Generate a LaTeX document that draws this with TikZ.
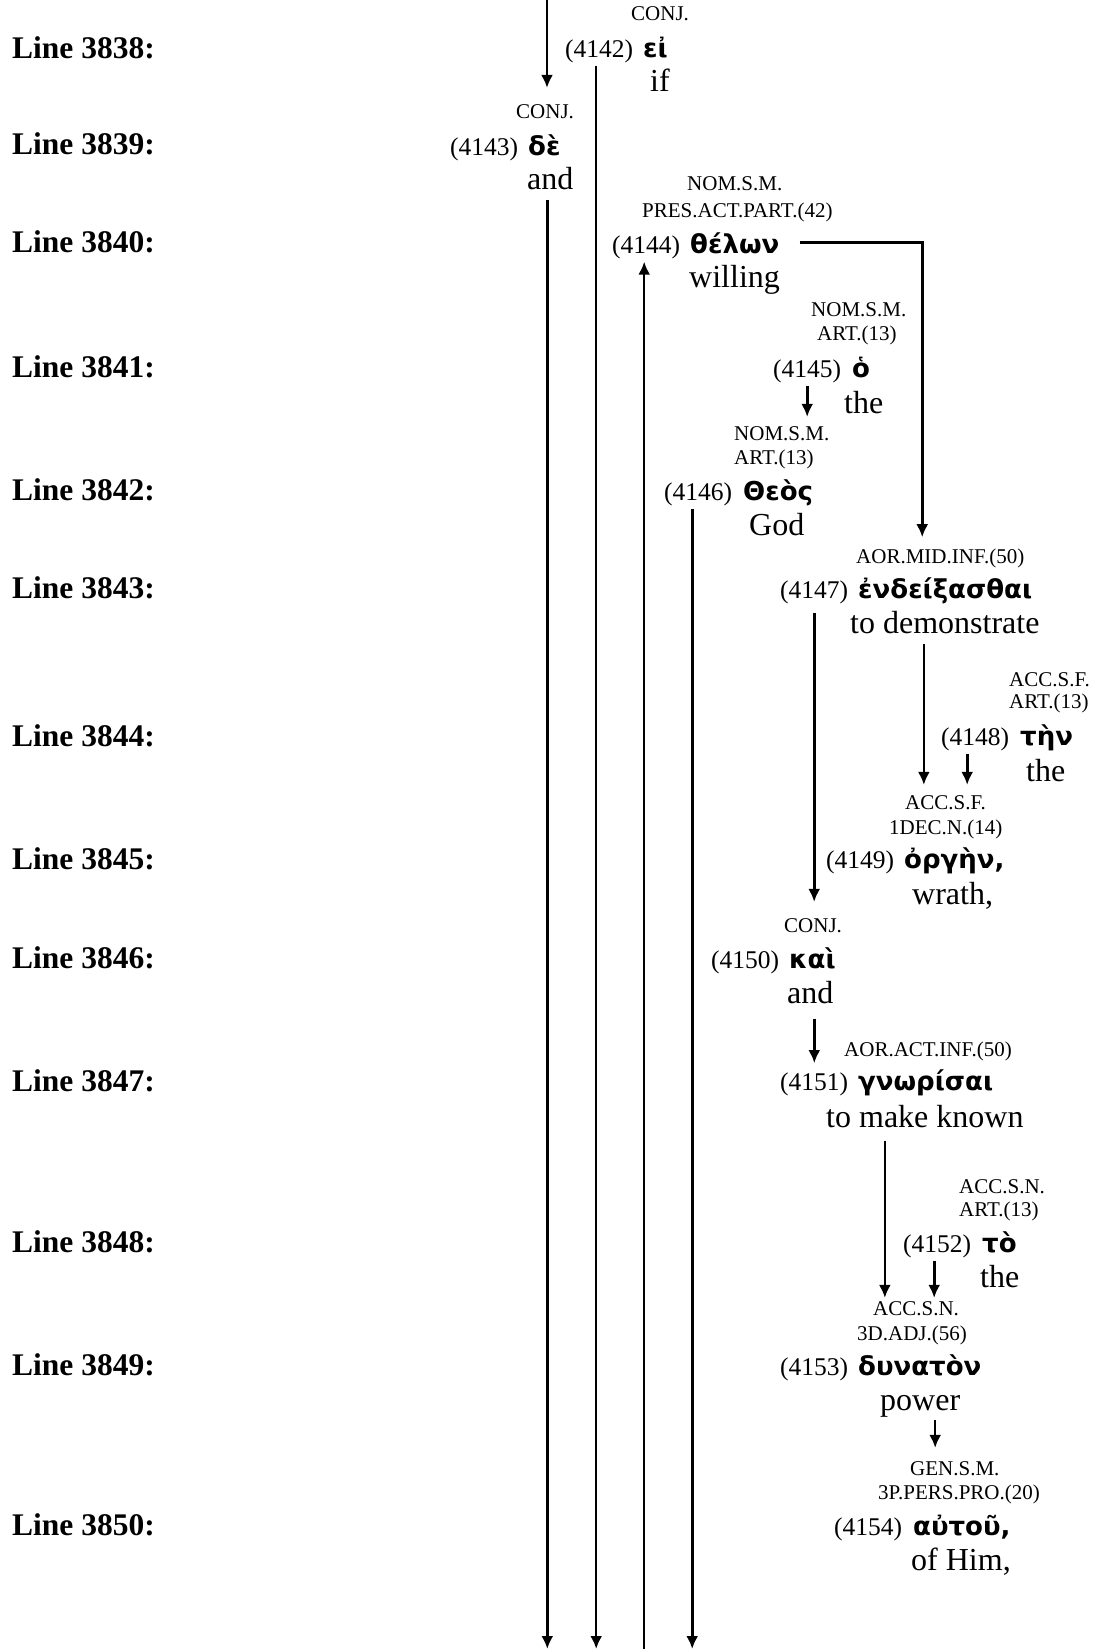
\documentclass[tikz,border=0pt]{standalone}
\usepackage{fontspec}
\setmainfont{Liberation Serif}
\newfontfamily\grkfamily{DejaVu Sans}
\usetikzlibrary{arrows.meta}
\newcommand{\linef}{\fontsize{31.5}{36}\selectfont\bfseries}
\newcommand{\tagf}{\fontsize{21}{24}\selectfont}
\newcommand{\numf}{\fontsize{25.5}{30}\selectfont}
\newcommand{\glossf}{\fontsize{32}{36}\selectfont}
\newcommand{\grkf}{\fontsize{26}{30}\selectfont\grkfamily\bfseries}

\begin{document}
\begin{tikzpicture}[x=1pt, y=-1pt,
  every node/.style={anchor=base west, inner xsep=0pt, inner ysep=3pt},
  link/.style={line width=2.6pt},
  >={Latex[length=13pt,width=12pt]}]
\useasboundingbox (0,0) rectangle (1094,1649);
\coordinate (top) at (547,0);
\coordinate (bot) at (0,1649);

\node (l3838) at (12,58) {\linef Line 3838:};
\node (l3839) at (12,154) {\linef Line 3839:};
\node (l3840) at (12,252) {\linef Line 3840:};
\node (l3841) at (12,377) {\linef Line 3841:};
\node (l3842) at (12,500) {\linef Line 3842:};
\node (l3843) at (12,598) {\linef Line 3843:};
\node (l3844) at (12,746) {\linef Line 3844:};
\node (l3845) at (12,869) {\linef Line 3845:};
\node (l3846) at (12,968) {\linef Line 3846:};
\node (l3847) at (12,1091) {\linef Line 3847:};
\node (l3848) at (12,1252) {\linef Line 3848:};
\node (l3849) at (12,1375) {\linef Line 3849:};
\node (l3850) at (12,1535) {\linef Line 3850:};

\node (t4142) at (631,20) {\tagf CONJ.};
\node (n4142) at (565,57) {\numf(4142)};
\node (w4142) at (643,57) {\grkf εἰ};
\node (g4142) at (650,91) {\glossf if};

\node (t4143) at (516,118) {\tagf CONJ.};
\node (n4143) at (450,155) {\numf(4143)};
\node (w4143) at (528,155) {\grkf δὲ};
\node (g4143) at (527,189) {\glossf and};

\node (t4144) at (687,190) {\tagf NOM.S.M.};
\node (s4144) at (642,217) {\tagf PRES.ACT.PART.(42)};
\node (n4144) at (612,253) {\numf(4144)};
\node (w4144) at (690,253) {\grkf θέλων};
\node (g4144) at (689,287) {\glossf willing};

\node (t4145) at (811,316) {\tagf NOM.S.M.};
\node (s4145) at (817,340) {\tagf ART.(13)};
\node (n4145) at (773,377) {\numf(4145)};
\node (w4145) at (852,377) {\grkf ὁ};
\node (g4145) at (844,413) {\glossf the};

\node (t4146) at (734,440) {\tagf NOM.S.M.};
\node (s4146) at (734,464) {\tagf ART.(13)};
\node (n4146) at (664,500) {\numf(4146)};
\node (w4146) at (743,500) {\grkf Θεὸς};
\node (g4146) at (749,535) {\glossf God};

\node (t4147) at (856,563) {\tagf AOR.MID.INF.(50)};
\node (n4147) at (780,598) {\numf(4147)};
\node (w4147) at (858,598) {\grkf ἐνδείξασθαι};
\node (g4147) at (850,633) {\glossf to demonstrate};

\node (t4148) at (1009,686) {\tagf ACC.S.F.};
\node (s4148) at (1009,708) {\tagf ART.(13)};
\node (n4148) at (941,745) {\numf(4148)};
\node (w4148) at (1020,745) {\grkf τὴν};
\node (g4148) at (1026,781) {\glossf the};

\node (t4149) at (905,809) {\tagf ACC.S.F.};
\node (s4149) at (889,834) {\tagf 1DEC.N.(14)};
\node (n4149) at (826,868) {\numf(4149)};
\node (w4149) at (904,868) {\grkf ὀργὴν,};
\node (g4149) at (912,904) {\glossf wrath,};

\node (t4150) at (784,932) {\tagf CONJ.};
\node (n4150) at (711,968) {\numf(4150)};
\node (w4150) at (789,968) {\grkf καὶ};
\node (g4150) at (787,1003) {\glossf and};

\node (t4151) at (844,1056) {\tagf AOR.ACT.INF.(50)};
\node (n4151) at (780,1090) {\numf(4151)};
\node (w4151) at (858,1090) {\grkf γνωρίσαι};
\node (g4151) at (826,1127) {\glossf to make known};

\node (t4152) at (959,1193) {\tagf ACC.S.N.};
\node (s4152) at (959,1216) {\tagf ART.(13)};
\node (n4152) at (903,1252) {\numf(4152)};
\node (w4152) at (982,1252) {\grkf τὸ};
\node (g4152) at (980,1287) {\glossf the};

\node (t4153) at (873,1315) {\tagf ACC.S.N.};
\node (s4153) at (857,1340) {\tagf 3D.ADJ.(56)};
\node (n4153) at (780,1375) {\numf(4153)};
\node (w4153) at (858,1375) {\grkf δυνατὸν};
\node (g4153) at (880,1410) {\glossf power};

\node (t4154) at (910,1475) {\tagf GEN.S.M.};
\node (s4154) at (878,1499) {\tagf 3P.PERS.PRO.(20)};
\node (n4154) at (834,1535) {\numf(4154)};
\node (w4154) at (913,1535) {\grkf αὐτοῦ,};
\node (g4154) at (911,1570) {\glossf of Him,};

\draw[link,->,shorten >=13pt] (top) -- (top |- t4143.north);
\draw[link,->] ([xshift=-3pt]n4142.south) -- ([xshift=-3pt]n4142.south |- bot);
\draw[link,->,shorten <=7pt] ([xshift=-3pt]g4143.south) -- ([xshift=-3pt]g4143.south |- bot);
\draw[link,<-] ([xshift=-2pt]n4144.south) -- ([xshift=-2pt]n4144.south |- bot);
\draw[link,->,shorten <=20pt,shorten >=8pt] (w4144.east) -| ([xshift=-18pt]t4147.north);
\draw[link,->,shorten >=6pt] (n4145.south) -- (n4145.south |- t4146.north);
\draw[link,->] ([xshift=-6pt]n4146.south) -- ([xshift=-6pt]n4146.south |- bot);
\draw[link,->,shorten <=6pt,shorten >=13pt] (n4147.south) -- (n4147.south |- t4150.north);
\draw[link,->,shorten <=7pt,shorten >=7pt] ([xshift=-21pt]g4147.south) -- ([xshift=-21pt]g4147.south |- t4149.north);
\draw[link,->,shorten >=7pt] ([xshift=-8pt]n4148.south) -- ([xshift=-8pt]n4148.south |- t4149.north);
\draw[link,->,shorten <=12pt,shorten >=6pt] ([xshift=4pt]g4150.south) -- ([xshift=4pt]g4150.south |- n4151.north);
\draw[link,->,shorten <=10pt] ([xshift=-40pt]g4151.south) -- ([xshift=-40pt]g4151.south |- t4153.north);
\draw[link,->] ([xshift=-3pt]n4152.south) -- ([xshift=-3pt]n4152.south |- t4153.north);
\draw[link,->,shorten >=10pt] ([xshift=15pt]g4153.south) -- ([xshift=15pt]g4153.south |- t4154.north);
\end{tikzpicture}
\end{document}
